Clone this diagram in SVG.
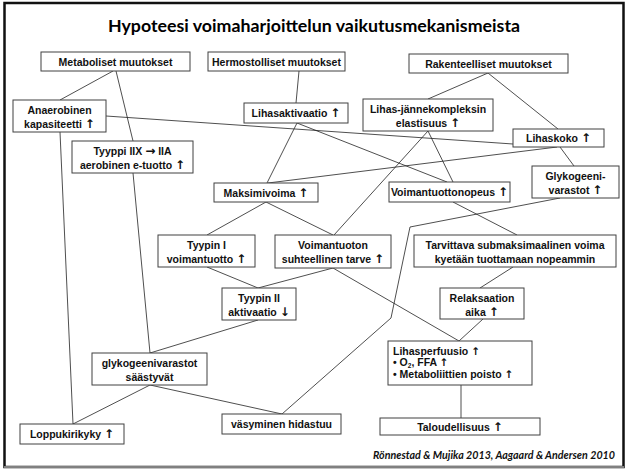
<svg xmlns="http://www.w3.org/2000/svg" width="627" height="471" viewBox="0 0 627 471">
  <style>
    .box { fill: #ffffff; stroke: #404040; stroke-width: 1; }
    .lbl { font-family: "Liberation Sans", Arial, sans-serif; font-weight: bold; font-size: 10.5px; fill: #111111; text-anchor: middle; }
    .lft { text-anchor: start; }
    .ar { font-family: "DejaVu Sans", sans-serif; font-weight: bold; font-size: 12px; }
    .ars { font-family: "DejaVu Sans", sans-serif; font-weight: bold; font-size: 10.5px; }
    .edge { fill: none; stroke: #222222; stroke-width: 0.8; }
    .title { font-family: Lato, "Open Sans", sans-serif; font-weight: bold; font-size: 17.8px; fill: #000000; text-anchor: middle; }
    .cite { font-family: Lato, "Open Sans", sans-serif; font-weight: bold; font-style: italic; font-size: 10.7px; fill: #111111; text-anchor: end; }
  </style>

  <!-- page frame -->
  <rect x="0" y="0" width="627" height="471" fill="#ffffff"/>
  <rect x="4.5" y="3" width="619" height="464" fill="none" stroke="#111111" stroke-width="2.5"/>
  <line x1="4" y1="467" x2="624" y2="467" stroke="#808080" stroke-width="2"/>

  <text class="title" x="314" y="32">Hypoteesi voimaharjoittelun vaikutusmekanismeista</text>

  <!-- connectors -->
  <g id="connectors">
    <line class="edge" x1="113" y1="71" x2="60" y2="100"/>
    <line class="edge" x1="116" y1="71" x2="133" y2="141"/>
    <line class="edge" x1="133" y1="173" x2="150" y2="353"/>
    <line class="edge" x1="60" y1="132" x2="73" y2="424"/>
    <line class="edge" x1="106" y1="116" x2="513" y2="144"/>
    <line class="edge" x1="299" y1="71" x2="296" y2="103"/>
    <line class="edge" x1="297" y1="123" x2="267" y2="183"/>
    <line class="edge" x1="297" y1="123" x2="447" y2="182"/>
    <line class="edge" x1="488" y1="73" x2="428" y2="99"/>
    <line class="edge" x1="488" y1="73" x2="558" y2="129"/>
    <line class="edge" x1="428" y1="131" x2="453" y2="182"/>
    <line class="edge" x1="428" y1="131" x2="334" y2="235"/>
    <line class="edge" x1="560" y1="147" x2="574" y2="166"/>
    <line class="edge" x1="557" y1="147" x2="268" y2="183"/>
    <line class="edge" x1="266" y1="202" x2="207" y2="235"/>
    <line class="edge" x1="266" y1="202" x2="333" y2="235"/>
    <line class="edge" x1="207" y1="267" x2="258" y2="288"/>
    <line class="edge" x1="333" y1="268" x2="258" y2="288"/>
    <line class="edge" x1="333" y1="268" x2="459" y2="341"/>
    <line class="edge" x1="483" y1="319" x2="459" y2="341"/>
    <line class="edge" x1="453" y1="202" x2="517" y2="235"/>
    <line class="edge" x1="513" y1="267" x2="480" y2="288"/>
    <polyline class="edge" points="560,198 410,227 391,318 282,414"/>
    <line class="edge" x1="258" y1="320" x2="150" y2="353"/>
    <line class="edge" x1="150" y1="385" x2="73" y2="424"/>
    <line class="edge" x1="150" y1="385" x2="282" y2="414"/>
    <line class="edge" x1="461" y1="385" x2="461" y2="418" stroke-width="1.6"/>
  </g>

  <!-- nodes -->
  <g id="metaboliset">
    <rect class="box" x="41" y="52" width="149" height="19"/>
    <text class="lbl" x="115.5" y="65.5">Metaboliset muutokset</text>
  </g>
  <g id="hermostolliset">
    <rect class="box" x="208" y="52" width="137" height="19"/>
    <text class="lbl" x="276.5" y="65.5">Hermostolliset muutokset</text>
  </g>
  <g id="rakenteelliset">
    <rect class="box" x="409" y="54" width="159" height="19"/>
    <text class="lbl" x="488.5" y="67.5">Rakenteelliset muutokset</text>
  </g>
  <g id="anaerobinen">
    <rect class="box" x="13" y="100" width="93" height="32"/>
    <text class="lbl" x="59.5" y="114">Anaerobinen</text>
    <text class="lbl" x="59.5" y="128">kapasiteetti <tspan class="ar">↑</tspan></text>
  </g>
  <g id="lihasaktivaatio">
    <rect class="box" x="244" y="103" width="104" height="20"/>
    <text class="lbl" x="296" y="117">Lihasaktivaatio <tspan class="ar">↑</tspan></text>
  </g>
  <g id="elastisuus">
    <rect class="box" x="363" y="99" width="130" height="32"/>
    <text class="lbl" x="428" y="113">Lihas-jännekompleksin</text>
    <text class="lbl" x="428" y="127">elastisuus <tspan class="ar">↑</tspan></text>
  </g>
  <g id="tyyppi-iix">
    <rect class="box" x="72" y="141" width="121" height="32"/>
    <text class="lbl" x="132.5" y="155">Tyyppi IIX <tspan class="ar" font-size="10">→</tspan> IIA</text>
    <text class="lbl" x="132.5" y="169">aerobinen e-tuotto <tspan class="ar">↑</tspan></text>
  </g>
  <g id="lihaskoko">
    <rect class="box" x="513" y="129" width="91" height="18"/>
    <text class="lbl" x="558.5" y="142">Lihaskoko <tspan class="ar">↑</tspan></text>
  </g>
  <g id="glykogeeni">
    <rect class="box" x="532" y="166" width="87" height="32"/>
    <text class="lbl" x="575.5" y="180">Glykogeeni-</text>
    <text class="lbl" x="575.5" y="194">varastot <tspan class="ar">↑</tspan></text>
  </g>
  <g id="maksimivoima">
    <rect class="box" x="214" y="183" width="104" height="19"/>
    <text class="lbl" x="266" y="196.5">Maksimivoima <tspan class="ar">↑</tspan></text>
  </g>
  <g id="voimantuottonopeus">
    <rect class="box" x="389" y="182" width="121" height="20"/>
    <text class="lbl" x="449.5" y="196">Voimantuottonopeus <tspan class="ar">↑</tspan></text>
  </g>
  <g id="tyypin-i">
    <rect class="box" x="158" y="235" width="97" height="32"/>
    <text class="lbl" x="206.5" y="249">Tyypin I</text>
    <text class="lbl" x="206.5" y="263">voimantuotto <tspan class="ar">↑</tspan></text>
  </g>
  <g id="suhteellinen-tarve">
    <rect class="box" x="275" y="235" width="116" height="33"/>
    <text class="lbl" x="333" y="249">Voimantuoton</text>
    <text class="lbl" x="333" y="263">suhteellinen tarve <tspan class="ar">↑</tspan></text>
  </g>
  <g id="submaksimaalinen">
    <rect class="box" x="414" y="235" width="202" height="32"/>
    <text class="lbl" x="515" y="249">Tarvittava submaksimaalinen voima</text>
    <text class="lbl" x="515" y="263">kyetään tuottamaan nopeammin</text>
  </g>
  <g id="tyypin-ii">
    <rect class="box" x="222" y="288" width="74" height="32"/>
    <text class="lbl" x="259" y="302">Tyypin II</text>
    <text class="lbl" x="259" y="316">aktivaatio <tspan class="ar">↓</tspan></text>
  </g>
  <g id="relaksaatio">
    <rect class="box" x="440" y="288" width="84" height="31"/>
    <text class="lbl" x="482" y="302">Relaksaation</text>
    <text class="lbl" x="482" y="316">aika <tspan class="ar">↑</tspan></text>
  </g>
  <g id="glykogeeni-saastyvat">
    <rect class="box" x="92" y="353" width="115" height="32"/>
    <text class="lbl" x="149.5" y="367">glykogeenivarastot</text>
    <text class="lbl" x="149.5" y="381">säästyvät</text>
  </g>
  <g id="lihasperfuusio">
    <rect class="box" x="388" y="341" width="144" height="44"/>
    <text class="lbl lft" x="393" y="355">Lihasperfuusio <tspan class="ars">↑</tspan></text>
    <text class="lbl lft" x="393" y="366">• O<tspan font-size="6.5" dy="1.5">2</tspan><tspan dy="-1.5">, FFA </tspan><tspan class="ars">↑</tspan></text>
    <text class="lbl lft" x="393" y="377.5">• Metaboliittien poisto <tspan class="ars">↑</tspan></text>
  </g>
  <g id="loppukirikyky">
    <rect class="box" x="20" y="424" width="104" height="20"/>
    <text class="lbl" x="72" y="438">Loppukirikyky <tspan class="ar">↑</tspan></text>
  </g>
  <g id="vasyminen">
    <rect class="box" x="222" y="414" width="119" height="20"/>
    <text class="lbl" x="281.5" y="428">väsyminen hidastuu</text>
  </g>
  <g id="taloudellisuus">
    <rect class="box" x="380" y="418" width="160" height="17"/>
    <text class="lbl" x="460" y="430.5">Taloudellisuus <tspan class="ar">↑</tspan></text>
  </g>

  <text class="cite" x="615" y="459">Rönnestad &amp; Mujika 2013, Aagaard &amp; Andersen 2010</text>
</svg>
